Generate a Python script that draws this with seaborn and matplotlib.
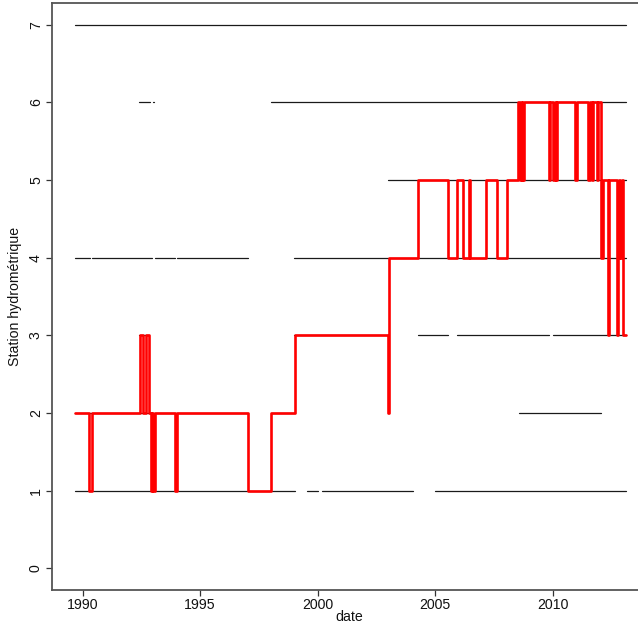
import matplotlib
matplotlib.use("Agg")
import matplotlib.pyplot as plt
import seaborn as sns
import pandas as pd

# ---- data -------------------------------------------------------------
# availability of each hydrometric station (level) : (start, end) in decimal years
level_7 = [(1989.68, 2013.12)]
level_6 = [(1992.40, 1992.87), (1993.00, 1993.04), (1998.02, 2013.12)]
level_5 = [(2003.00, 2013.12)]
level_4 = [(1989.68, 1990.32), (1990.40, 1992.96), (1993.09, 1993.94),
           (1994.02, 1997.04), (1999.00, 2013.12)]
level_3 = [(1992.42, 1992.83), (1999.00, 2003.00), (2004.28, 2005.57),
           (2005.94, 2009.85), (2010.02, 2013.12)]
level_2 = [(1989.68, 1997.04), (1998.02, 1999.02), (2003.00, 2003.03),
           (2008.57, 2012.06)]
level_1 = [(1989.68, 1999.05), (1999.55, 2000.02), (2000.19, 2004.06),
           (2005.00, 2013.12)]

# selected station through time (step changes)
sel_time = [1989.68, 1990.29, 1990.41, 1992.43, 1992.59, 1992.69, 1992.83,
            1992.92, 1992.97, 1993.00, 1993.10, 1993.92, 1994.04, 1997.04,
            1998.02, 1999.04, 2003.00, 2003.02, 2004.26, 2005.57, 2005.95,
            2006.20, 2006.44, 2006.48, 2007.17, 2007.65, 2008.05, 2008.55,
            2008.62, 2008.68, 2008.72, 2008.77, 2009.83, 2009.91, 2010.02,
            2010.09, 2010.15, 2010.21, 2010.96, 2011.02, 2011.53, 2011.60,
            2011.66, 2011.74, 2011.88, 2011.94, 2012.05, 2012.15, 2012.37,
            2012.41, 2012.74, 2012.78, 2012.84, 2012.89, 2012.95, 2013.00,
            2013.12]
sel_station = [2, 1, 2, 3, 2, 3, 2,
               1, 2, 1, 2, 1, 2, 1,
               2, 3, 2, 4, 5, 4, 5,
               4, 5, 4, 5, 4, 5, 6,
               5, 6, 5, 6, 5, 6, 5,
               6, 5, 6, 5, 6, 5, 6,
               5, 6, 5, 6, 4, 5, 3,
               5, 3, 4, 5, 4, 5, 3,
               3]

x_ticks = [1990, 1995, 2000, 2005, 2010]
y_ticks = [0, 1, 2, 3, 4, 5, 6, 7]

# ---- build tables -----------------------------------------------------
levels = {1: level_1, 2: level_2, 3: level_3, 4: level_4,
          5: level_5, 6: level_6, 7: level_7}
rows = []
seg = 0
for lev, segs in levels.items():
    for a, b in segs:
        rows.append({"t": a, "lev": lev, "seg": seg})
        rows.append({"t": b, "lev": lev, "seg": seg})
        seg += 1
seg_df = pd.DataFrame(rows)
sel_df = pd.DataFrame({"t": sel_time, "station": sel_station})

# ---- figure -----------------------------------------------------------
sns.set_style("white")
plt.rcParams["font.family"] = ["Liberation Sans", "DejaVu Sans"]

W, H = 638, 625
fig = plt.figure(figsize=(W / 100, H / 100), dpi=100)
ax = fig.add_axes([52 / W, (H - 590) / H, (647 - 52) / W, (590 - 3) / H])

sns.lineplot(data=seg_df, x="t", y="lev", units="seg", estimator=None,
             color="#1a1a1a", linewidth=0.9, ax=ax, legend=False)
sns.lineplot(data=sel_df, x="t", y="station", estimator=None, sort=False,
             drawstyle="steps-post", color="#ff0000", linewidth=1.9, ax=ax,
             legend=False)

ax.set_xlim(1988.70, 2014.02)
ax.set_ylim(-0.28, 7.28)
ax.set_xticks(x_ticks)
ax.set_xticklabels([str(v) for v in x_ticks])
ax.set_yticks(y_ticks)
ax.set_yticklabels([str(v) for v in y_ticks], rotation=90, va="center")

for side in ["left", "bottom", "top"]:
    ax.spines[side].set_visible(True)
    ax.spines[side].set_color("#555555")
    ax.spines[side].set_linewidth(1.3)
ax.spines["right"].set_visible(False)

ax.tick_params(axis="both", which="both", direction="out", length=4,
               width=0.9, color="#333333", labelsize=10.2, labelcolor="#111111",
               pad=2.5, left=True, bottom=True)
ax.tick_params(axis="x", pad=1.5)
ax.set_xlabel("date", fontsize=10.2, color="#111111", labelpad=-1.5)
ax.set_ylabel("Station hydrométrique", fontsize=10.2, color="#111111",
              labelpad=5)

fig.savefig("out.png", dpi=100)
